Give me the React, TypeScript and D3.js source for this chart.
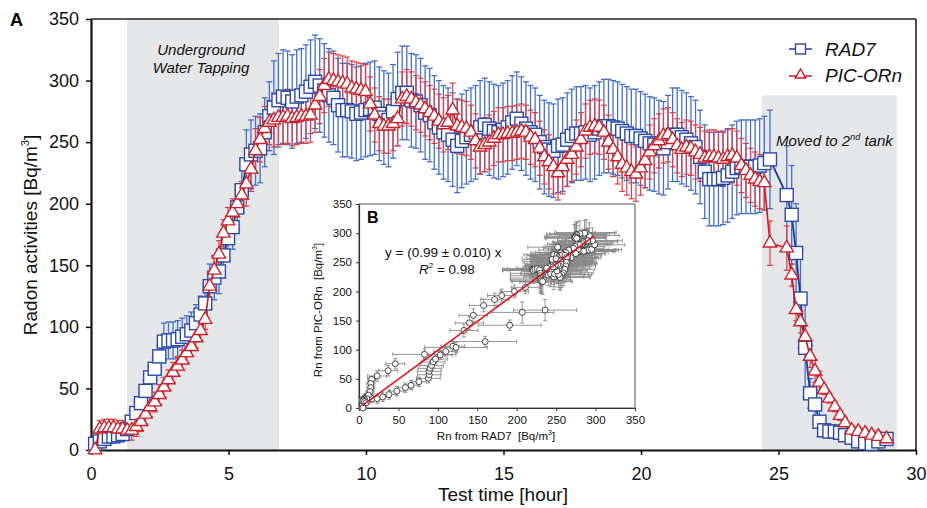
import React, { useEffect, useRef } from 'react';
import * as d3 from 'd3';

// ---------- DATA ----------
// First tank: readings every 10 minutes starting at 0.15 h
const mainStartHour = 0.15;
const mainStepMinutes = 10;

const radMain = [
  5, 7, 9, 11, 11, 12, 13, 17, 23, 30,
  38, 48, 59, 66, 76, 88, 89, 89, 90, 92,
  94, 97, 103, 110, 119, 133, 140, 145, 158, 172,
  181, 197, 211, 232, 240, 243, 245, 258, 271, 278,
  284, 287, 286, 283, 287, 288, 291, 295, 299, 296,
  292, 288, 286, 280, 276, 276, 275, 273, 274, 276,
  277, 278, 273, 270, 268, 275, 285, 290, 290, 284,
  283, 280, 274, 272, 266, 262, 258, 256, 252, 247,
  251, 254, 256, 258, 262, 264, 261, 259, 258, 260,
  262, 266, 269, 265, 261, 258, 256, 250, 246, 244,
  243, 247, 248, 252, 255, 257, 257, 258, 256, 258,
  261, 263, 263, 262, 261, 259, 257, 255, 255, 253,
  251, 249, 248, 246, 245, 250, 256, 256, 254, 252,
  249, 246, 238, 226, 220, 220, 220, 221, 223, 226,
  229, 230, 230, 230, 230, 231, 233,
];

const picMain = [
  0, 17, 18, 18, 18, 17, 17, 16, 16, 19,
  23, 29, 35, 39, 45, 51, 57, 63, 68, 73,
  79, 84, 91, 97, 106, 133, 146, 159, 176, 186,
  193, 200, 207, 216, 228, 243, 252, 261, 266, 268,
  270, 270, 271, 269, 270, 271, 271, 272, 280, 287,
  296, 301, 300, 299, 298, 297, 294, 293, 292, 291,
  281, 272, 265, 263, 263, 265, 269, 285, 287, 285,
  282, 280, 277, 274, 271, 267, 264, 266, 276, 263,
  262, 261, 258, 251, 246, 248, 250, 253, 256, 256,
  257, 257, 258, 259, 258, 254, 252, 245, 238, 234,
  230, 225, 230, 236, 240, 246, 252, 259, 262, 263,
  262, 258, 250, 244, 238, 232, 229, 226, 224, 229,
  235, 242, 247, 251, 255, 256, 252, 247, 244, 246,
  245, 242, 240, 237, 238, 238, 237, 236, 238, 239,
  237, 231, 227, 223, 220, 218, 217,
];

// Second tank readings (hours)
const tailTimes = [24.69, 25.3, 25.48, 25.64, 25.8, 25.97, 26.15, 26.33, 26.49, 26.66, 26.85, 27.05, 27.24, 27.42, 27.66, 27.9, 28.15, 28.39, 28.63, 28.93];
const radTail = [236, 207, 191, 160, 123, 83, 46, 37, 23, 16, 15, 15, 14, 12, 10, 7, 5.5, 5, 7, 9];
const picTail = [168, 164, 142, 114, 104, 92, 76, 64, 55, 49, 42, 35, 28, 22, 16, 15, 13.5, 12, 11, 9];

// Uncertainty (1 sigma, Bq/m3) by time segment (segment upper bounds in hours)
const radErrEnds = [1.4, 2.5, 4.2, 5.6, 6.6, 24.6, 26.0, 26.6, 30];
const radErrVals = [5, 9, 15, 18, 28, 38, 40, 12, 5];
const picErrEnds = [1.45, 4.3, 5.6, 6.6, 24.6, 25.4, 26.6, 30];
const picErrVals = [7, 8, 11, 18, 22, 18, 9, 4];

// Shaded periods
const bandStarts = [1.31, 24.4];
const bandEnds = [6.84, 29.3];
const bandTops = [350, 288];

const xTicks = [0, 5, 10, 15, 20, 25, 30];
const yTicks = [0, 50, 100, 150, 200, 250, 300, 350];
const insetTicks = [0, 50, 100, 150, 200, 250, 300, 350];
const fitSlope = 0.99;
const fitRange = [5, 298];

// ---------- LAYOUT ----------
const W = 927, H = 508;
const FONT = '"Liberation Sans", Arial, Helvetica, sans-serif';
const BLUE = '#2a4aa6';
const BLUE_BAR = '#4470c8';
const BLUE_LINE = '#1f3a92';
const RED = '#c8232c';
const RED_BAR = '#dc3f47';
const RED_LINE = '#c21d25';

const mainTimes = radMain.map((_, i) => mainStartHour + (i * mainStepMinutes) / 60);
const times = mainTimes.concat(tailTimes);
const radAll = radMain.concat(radTail);
const picAll = picMain.concat(picTail);
const errAt = (t: number, ends: number[], vals: number[]) => vals[Math.min(d3.bisectLeft(ends, t), vals.length - 1)];

const radPts = times.map((t, i) => ({ t, v: radAll[i], e: errAt(t, radErrEnds, radErrVals) }));
const picPts = times.map((t, i) => ({ t, v: picAll[i], e: errAt(t, picErrEnds, picErrVals) }));

const x = d3.scaleLinear().domain([0, 30]).range([91, 916]);
const y = d3.scaleLinear().domain([0, 350]).range([450, 19]);
const xi = d3.scaleLinear().domain([0, 350]).range([359, 635]);
const yi = d3.scaleLinear().domain([0, 350]).range([408, 204]);

function Axis({ axis, transform, fontSize, sw, color }: any) {
  const ref = useRef<SVGGElement>(null);
  useEffect(() => {
    const g = d3.select(ref.current as SVGGElement);
    g.call(axis);
    g.attr('font-size', fontSize).attr('font-family', FONT);
    g.select('.domain').attr('stroke', color).attr('stroke-width', sw);
    g.selectAll('.tick line').attr('stroke', color).attr('stroke-width', Math.max(1, sw * 0.7));
    g.selectAll('.tick text').attr('fill', '#111');
  });
  return <g ref={ref} transform={transform} />;
}

function ErrorBars({ pts, color, cap, width }: any) {
  return (
    <g stroke={color} strokeWidth={width} fill="none">
      {pts.map((p: any, i: number) => (
        <g key={i}>
          <line x1={x(p.t)} x2={x(p.t)} y1={y(p.v + p.e)} y2={y(Math.max(p.v - p.e, 0))} />
          <line x1={x(p.t) - cap} x2={x(p.t) + cap} y1={y(p.v + p.e)} y2={y(p.v + p.e)} />
          <line x1={x(p.t) - cap} x2={x(p.t) + cap} y1={y(Math.max(p.v - p.e, 0))} y2={y(Math.max(p.v - p.e, 0))} />
        </g>
      ))}
    </g>
  );
}

export default function App() {
  const line = d3.line<any>().x((d) => x(d.t)).y((d) => y(d.v));
  const tri = d3.symbol().type(d3.symbolTriangle).size(78)() as string;
  const triSmall = d3.symbol().type(d3.symbolTriangle).size(48)() as string;
  const sq = 13;

  const pairs = radAll.map((r, i) => ({ r, p: picAll[i], er: radPts[i].e, ep: picPts[i].e }));

  return (
    <svg width={W} height={H} style={{ position: 'absolute', left: 0, top: 0, background: '#fff' }} fontFamily={FONT}>
      <rect x={0} y={0} width={W} height={H} fill="#fff" />
      {/* shaded bands */}
      {bandStarts.map((s, i) => (
        <rect key={i} x={x(s)} y={y(bandTops[i])} width={x(bandEnds[i]) - x(s)} height={y(0) - y(bandTops[i])} fill="#e5e6e7" />
      ))}
      {/* frame */}
      <line x1={91} x2={916} y1={19} y2={19} stroke="#222" strokeWidth={1.6} />
      <line x1={916} x2={916} y1={19} y2={450} stroke="#222" strokeWidth={1.6} />
      <Axis axis={d3.axisLeft(y).tickValues(yTicks).tickSize(5).tickSizeOuter(0).tickPadding(7)} transform="translate(91,0)" fontSize={18} sw={2.2} color="#111" />
      <Axis axis={d3.axisBottom(x).tickValues(xTicks).tickSize(5).tickSizeOuter(0).tickPadding(12)} transform="translate(0,450)" fontSize={18} sw={2.2} color="#111" />

      {/* series */}
      <ErrorBars pts={radPts} color={BLUE_BAR} cap={3} width={1.3} />
      <ErrorBars pts={picPts} color={RED_BAR} cap={3} width={1.2} />
      <path d={line(radPts) as string} fill="none" stroke={BLUE_LINE} strokeWidth={1.8} />
      {radPts.map((p, i) => (
        <rect key={i} x={x(p.t) - sq / 2} y={y(p.v) - sq / 2} width={sq} height={sq} fill="#fff" stroke={BLUE} strokeWidth={1.4} />
      ))}
      <path d={line(picPts) as string} fill="none" stroke={RED_LINE} strokeWidth={1.6} />
      {picPts.map((p, i) => (
        <path key={i} d={tri} transform={`translate(${x(p.t)},${y(p.v)})`} fill="#fff" stroke={RED} strokeWidth={1.4} />
      ))}

      {/* annotations */}
      <text x={10} y={26} fontSize={18} fontWeight="bold">A</text>
      <text x={201} y={55} fontSize={15} fontStyle="italic" textAnchor="middle" fill="#111">Underground</text>
      <text x={201} y={73} fontSize={15} fontStyle="italic" textAnchor="middle" fill="#111">Water Tapping</text>
      <text x={776} y={146} fontSize={15} fontStyle="italic" fill="#111">
        Moved to 2<tspan dy={-6} fontSize={9}>nd</tspan><tspan dy={6}> tank</tspan>
      </text>

      {/* legend */}
      <line x1={789} x2={812} y1={49} y2={49} stroke={BLUE_LINE} strokeWidth={1.5} />
      <rect x={795.5} y={44} width={10} height={10} fill="#fff" stroke={BLUE} strokeWidth={1.4} />
      <text x={825} y={56} fontSize={19} fontStyle="italic" fill="#111">RAD7</text>
      <line x1={789} x2={812} y1={76} y2={76} stroke={RED_LINE} strokeWidth={1.5} />
      <path d={triSmall} transform="translate(800.5,75)" fill="#fff" stroke={RED} strokeWidth={1.4} />
      <text x={825} y={82} fontSize={19} fontStyle="italic" fill="#111">PIC-ORn</text>

      {/* axis titles */}
      <text x={503} y={501} fontSize={19} textAnchor="middle" fill="#111">Test  time [hour]</text>
      <text transform="translate(37,235) rotate(-90)" fontSize={19} textAnchor="middle" fill="#111">
        Radon activities [Bq/m<tspan dy={-8} fontSize={11}>3</tspan><tspan dy={8}>]</tspan>
      </text>

      {/* inset B */}
      <rect x={359} y={204} width={276} height={204} fill="#fff" stroke="#555" strokeWidth={1} />
      <Axis axis={d3.axisLeft(yi).tickValues(insetTicks).tickSize(3).tickSizeOuter(0).tickPadding(4)} transform="translate(359,0)" fontSize={11.5} sw={1.2} color="#333" />
      <Axis axis={d3.axisBottom(xi).tickValues(insetTicks).tickSize(3).tickSizeOuter(0).tickPadding(5)} transform="translate(0,408)" fontSize={11.5} sw={1.2} color="#333" />
      <g stroke="#8a8a8a" strokeWidth={0.9}>
        {pairs.map((d, i) => (
          <g key={i}>
            <line x1={xi(Math.max(d.r - d.er, 0))} x2={xi(d.r + d.er)} y1={yi(d.p)} y2={yi(d.p)} />
            <line x1={xi(Math.max(d.r - d.er, 0))} x2={xi(Math.max(d.r - d.er, 0))} y1={yi(d.p) - 2} y2={yi(d.p) + 2} />
            <line x1={xi(d.r + d.er)} x2={xi(d.r + d.er)} y1={yi(d.p) - 2} y2={yi(d.p) + 2} />
            <line x1={xi(d.r)} x2={xi(d.r)} y1={yi(Math.max(d.p - d.ep, 0))} y2={yi(d.p + d.ep)} />
            <line x1={xi(d.r) - 2} x2={xi(d.r) + 2} y1={yi(Math.max(d.p - d.ep, 0))} y2={yi(Math.max(d.p - d.ep, 0))} />
            <line x1={xi(d.r) - 2} x2={xi(d.r) + 2} y1={yi(d.p + d.ep)} y2={yi(d.p + d.ep)} />
          </g>
        ))}
      </g>
      {pairs.map((d, i) => (
        <circle key={i} cx={xi(d.r)} cy={yi(d.p)} r={3} fill="#fff" stroke="#333" strokeWidth={0.9} />
      ))}
      <line x1={xi(fitRange[0])} x2={xi(fitRange[1])} y1={yi(fitRange[0] * fitSlope)} y2={yi(fitRange[1] * fitSlope)} stroke="#e0141c" strokeWidth={1.6} />
      <text x={367} y={223} fontSize={16} fontWeight="bold">B</text>
      <text x={385} y={257} fontSize={13.5} fill="#111">y = (0.99 ± 0.010) x</text>
      <text x={419} y={274} fontSize={13.5} fill="#111">
        <tspan fontStyle="italic">R</tspan><tspan dy={-6} fontSize={8}>2</tspan><tspan dy={6}> = 0.98</tspan>
      </text>
      <text x={496} y={440} fontSize={11.5} textAnchor="middle" fill="#111">
        Rn from RAD7{'\u00a0\u00a0'}[Bq/m<tspan dy={-5} fontSize={7}>3</tspan><tspan dy={5}>]</tspan>
      </text>
      <text transform="translate(322,310) rotate(-90)" fontSize={11.5} textAnchor="middle" fill="#111">
        Rn from PIC-ORn{'\u00a0\u00a0'}[Bq/m<tspan dy={-5} fontSize={7}>3</tspan><tspan dy={5}>]</tspan>
      </text>
    </svg>
  );
}
